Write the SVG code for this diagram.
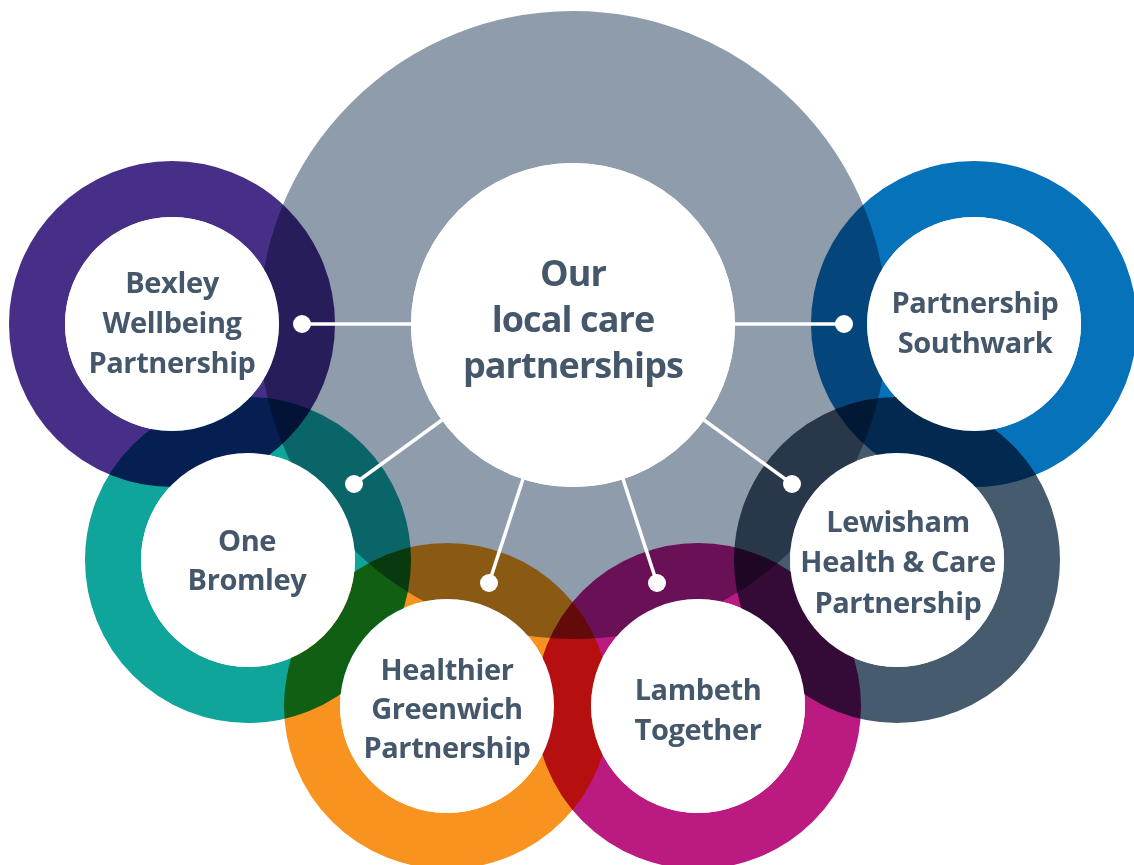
<svg xmlns="http://www.w3.org/2000/svg" width="1134" height="865" viewBox="0 0 1134 865">
  <style>
    .ring { fill: none; stroke-width: 56; mix-blend-mode: multiply; }
    .hub { fill: none; stroke: #8f9cab; stroke-width: 152; mix-blend-mode: multiply; }
    .face { fill: #ffffff; }
    .label { font-family: "Open Sans", "Noto Sans", "Liberation Sans", sans-serif; font-weight: 700; fill: #44576b; text-anchor: middle; }
    .small { font-size: 29px; letter-spacing: -0.4px; }
    .big { font-size: 36px; letter-spacing: -0.9px; }
    .link { stroke: #ffffff; stroke-width: 3.5; fill: none; }
    .dot { fill: #ffffff; }
  </style>

  <rect width="1134" height="865" fill="#ffffff"/>

  <!-- coloured rings, blended so that overlaps darken -->
  <g id="rings" style="isolation:isolate">
    <circle class="hub" cx="573" cy="325" r="238"/>
    <circle class="ring" cx="172" cy="324" r="135" stroke="#472f87"/>
    <circle class="ring" cx="974" cy="324" r="135" stroke="#0672b9"/>
    <circle class="ring" cx="248" cy="560" r="135" stroke="#10a59a"/>
    <circle class="ring" cx="897" cy="560" r="135" stroke="#475b6e"/>
    <circle class="ring" cx="447" cy="706" r="135" stroke="#f7931e"/>
    <circle class="ring" cx="698" cy="706" r="135" stroke="#bb1a80"/>
  </g>

  <!-- connectors from the hub to each partnership -->
  <g id="connectors">
    <line class="link" x1="411" y1="324" x2="302" y2="324"/>
    <line class="link" x1="735" y1="324" x2="844" y2="324"/>
    <line class="link" x1="442" y1="420" x2="354" y2="484"/>
    <line class="link" x1="704" y1="420" x2="792" y2="484"/>
    <line class="link" x1="523" y1="479" x2="489" y2="583"/>
    <line class="link" x1="623" y1="479" x2="657" y2="583"/>
    <circle class="dot" cx="302" cy="324" r="9"/>
    <circle class="dot" cx="844" cy="324" r="9"/>
    <circle class="dot" cx="354" cy="484" r="9"/>
    <circle class="dot" cx="792" cy="484" r="9"/>
    <circle class="dot" cx="489" cy="583" r="9"/>
    <circle class="dot" cx="657" cy="583" r="9"/>
  </g>

  <g id="hub">
    <circle class="face" cx="573" cy="325" r="162"/>
    <text class="label big" x="573"><tspan x="573" y="286">Our</tspan><tspan x="573" y="332">local care</tspan><tspan x="573" y="378">partnerships</tspan></text>
  </g>

  <g id="bexley">
    <circle class="face" cx="172" cy="324" r="107"/>
    <text class="label small"><tspan x="172" y="293">Bexley</tspan><tspan x="172" y="333">Wellbeing</tspan><tspan x="172" y="373">Partnership</tspan></text>
  </g>

  <g id="southwark">
    <circle class="face" cx="974" cy="324" r="107"/>
    <text class="label small"><tspan x="975" y="313">Partnership</tspan><tspan x="975" y="353">Southwark</tspan></text>
  </g>

  <g id="bromley">
    <circle class="face" cx="248" cy="560" r="107"/>
    <text class="label small"><tspan x="247" y="551">One</tspan><tspan x="247" y="590">Bromley</tspan></text>
  </g>

  <g id="lewisham">
    <circle class="face" cx="897" cy="560" r="107"/>
    <text class="label small"><tspan x="898" y="532">Lewisham</tspan><tspan x="898" y="572">Health &amp; Care</tspan><tspan x="898" y="613">Partnership</tspan></text>
  </g>

  <g id="greenwich">
    <circle class="face" cx="447" cy="706" r="107"/>
    <text class="label small"><tspan x="447" y="680">Healthier</tspan><tspan x="447" y="719">Greenwich</tspan><tspan x="447" y="758">Partnership</tspan></text>
  </g>

  <g id="lambeth">
    <circle class="face" cx="698" cy="706" r="107"/>
    <text class="label small"><tspan x="698" y="700">Lambeth</tspan><tspan x="698" y="740">Together</tspan></text>
  </g>
</svg>
